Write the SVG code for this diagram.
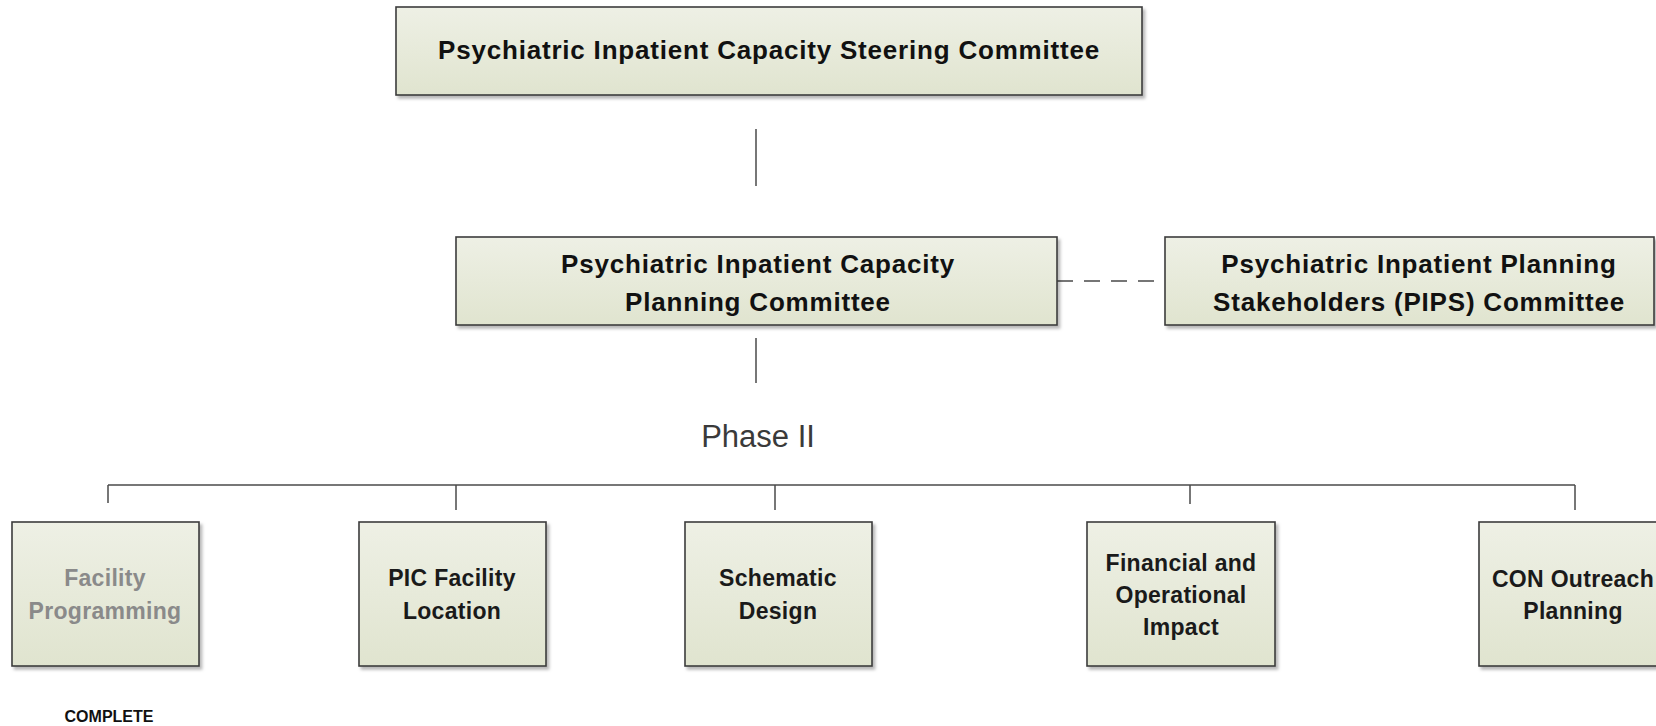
<svg xmlns="http://www.w3.org/2000/svg" width="1656" height="726" viewBox="0 0 1656 726">
<style>
.box{fill:url(#g);stroke:#3c3c3c;stroke-width:1.6;filter:url(#sh)}
.big{font-family:"Liberation Sans",Arial,sans-serif;font-weight:bold;font-size:26px;letter-spacing:0.8px;fill:#111;text-anchor:middle}
.sm{font-family:"Liberation Sans",Arial,sans-serif;font-weight:bold;font-size:23px;letter-spacing:0.3px;fill:#1a1a1a;text-anchor:middle}
.done{fill:#8a8a8a}
.ln{stroke:#4a4a4a;stroke-width:1.5;fill:none}
</style>
<defs>
<linearGradient id="g" x1="0" y1="0" x2="0" y2="1">
<stop offset="0" stop-color="#eef0e5"/>
<stop offset="1" stop-color="#e0e4cf"/>
</linearGradient>
<filter id="sh" x="-5%" y="-5%" width="115%" height="125%">
<feDropShadow dx="2.5" dy="3" stdDeviation="1.5" flood-color="#000" flood-opacity="0.28"/>
</filter>
</defs>
<rect width="1656" height="726" fill="#fff"/>
<g id="connectors">
<line class="ln" x1="756" y1="129" x2="756" y2="186"/>
<line class="ln" x1="756" y1="338" x2="756" y2="383"/>
<line class="ln" x1="1057" y1="281" x2="1165" y2="281" stroke-dasharray="16 11"/>
<line class="ln" x1="108" y1="485" x2="1575" y2="485"/>
<line class="ln" x1="108" y1="485" x2="108" y2="503"/>
<line class="ln" x1="456" y1="485" x2="456" y2="510"/>
<line class="ln" x1="775" y1="485" x2="775" y2="510"/>
<line class="ln" x1="1190" y1="485" x2="1190" y2="504"/>
<line class="ln" x1="1575" y1="485" x2="1575" y2="510"/>
</g>
<g id="steering">
<rect class="box" x="396" y="7" width="746" height="88"/>
<text class="big" x="769" y="59">Psychiatric Inpatient Capacity Steering Committee</text>
</g>
<g id="planning">
<rect class="box" x="456" y="237" width="601" height="88"/>
<text class="big" x="758" y="273">Psychiatric Inpatient Capacity</text>
<text class="big" x="758" y="311">Planning Committee</text>
</g>
<g id="pips">
<rect class="box" x="1165" y="237" width="489" height="88"/>
<text class="big" x="1419" y="273">Psychiatric Inpatient Planning</text>
<text class="big" x="1419" y="311">Stakeholders (PIPS) Committee</text>
</g>
<g id="phase">
<text x="758" y="447" font-family="'Liberation Sans',Arial,sans-serif" font-size="31" fill="#3a3a3a" text-anchor="middle">Phase II</text>
</g>
<g id="facility-programming">
<rect class="box" x="12" y="522" width="187" height="144"/>
<text class="sm done" x="105" y="586">Facility</text>
<text class="sm done" x="105" y="619">Programming</text>
</g>
<g id="pic-location">
<rect class="box" x="359" y="522" width="187" height="144"/>
<text class="sm" x="452" y="586">PIC Facility</text>
<text class="sm" x="452" y="619">Location</text>
</g>
<g id="schematic">
<rect class="box" x="685" y="522" width="187" height="144"/>
<text class="sm" x="778" y="586">Schematic</text>
<text class="sm" x="778" y="619">Design</text>
</g>
<g id="financial">
<rect class="box" x="1087" y="522" width="188" height="144"/>
<text class="sm" x="1181" y="571">Financial and</text>
<text class="sm" x="1181" y="603">Operational</text>
<text class="sm" x="1181" y="635">Impact</text>
</g>
<g id="con">
<rect class="box" x="1479" y="522" width="188" height="144"/>
<text class="sm" x="1573" y="587">CON Outreach</text>
<text class="sm" x="1573" y="619">Planning</text>
</g>
<g id="complete">
<text x="109" y="722" font-family="'Liberation Sans',Arial,sans-serif" font-weight="bold" font-size="16" fill="#111" text-anchor="middle">COMPLETE</text>
</g>
</svg>
